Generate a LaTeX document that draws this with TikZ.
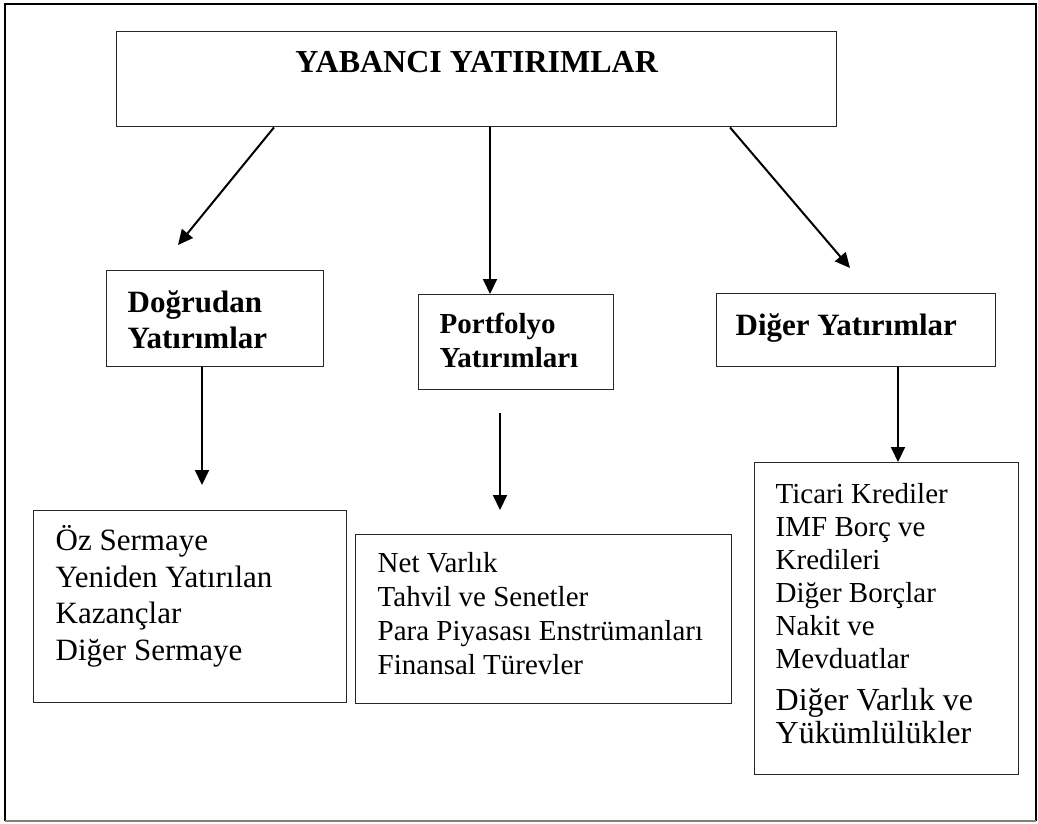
\documentclass[tikz,border=0pt]{standalone}
\usepackage{fontspec}
\setmainfont{Liberation Serif}
\usetikzlibrary{arrows.meta}

\begin{document}
\begin{tikzpicture}[x=1pt, y=-1pt,
  box/.style={draw=black!85, line width=1.4pt, anchor=north west, inner ysep=0pt},
  headbox/.style={box, align=flush left, font=\bfseries\fontsize{31}{36}\selectfont},
  listbox/.style={box, align=flush left},
  arr/.style={-{Triangle[length=15pt, width=14pt]}, line width=2pt},
  frame/.style={line width=2pt}
]
  \useasboundingbox (0,0) rectangle (1038,823);
  % outer frame
  \draw[frame] (5,821) -- (5,4) -- (1036,4) -- (1036,821);
  \draw[frame, black!50] (5,821) -- (1036,821);

  % title
  \node[box, minimum width=720pt, text height=41pt, text depth=54pt,
        font=\bfseries\fontsize{32}{38}\selectfont] (top) at (116,31) {YABANCI YATIRIMLAR};

  % three groups
  \node[headbox, inner xsep=21pt, text width=175pt, text height=42pt, text depth=54pt]
    (dog) at (106,270) {Doğrudan\\Yatırımlar};
  \node[headbox, inner xsep=21pt, text width=153pt, text height=39pt, text depth=56pt,
        font=\bfseries\fontsize{29}{34}\selectfont] (port) at (418,294) {Portfolyo\\Yatırımları};
  \node[headbox, inner xsep=19pt, text width=241pt, text height=42pt, text depth=31pt]
    (dig) at (716,293) {Diğer Yatırımlar};

  % lists
  \node[listbox, inner xsep=22pt, text width=269pt, text height=40pt, text depth=152pt,
        font=\fontsize{31}{36.5}\selectfont] (dogList) at (33,510)
    {Öz Sermaye\\Yeniden Yatırılan\\Kazançlar\\Diğer Sermaye};
  \node[listbox, inner xsep=22pt, text width=332pt, text height=38pt, text depth=131pt,
        font=\fontsize{29}{34}\selectfont] (portList) at (355,534)
    {Net Varlık\\Tahvil ve Senetler\\Para Piyasası Enstrümanları\\Finansal Türevler};
  \node[listbox, inner xsep=21pt, text width=222pt, text height=41pt, text depth=271pt,
        font=\fontsize{29}{33}\selectfont] (digList) at (754,462)
    {Ticari Krediler\\IMF Borç ve\\Kredileri\\Diğer Borçlar\\Nakit ve\\Mevduatlar\\[5pt]{\fontsize{32}{37}\selectfont Diğer Varlık ve\\Yükümlülükler}};

  % free ends of the arrows
  \coordinate (dogIn) at (178,245);
  \coordinate (portIn) at ([xshift=72pt]port.north west);
  \coordinate (digIn) at (850,268);
  \coordinate (dogListIn) at (202,485);
  \coordinate (portOut) at (500,413);
  \coordinate (portListIn) at (500,510);
  \coordinate (digOut) at ([xshift=182pt]dig.south west);

  \draw[arr] ([xshift=158pt]top.south west) -- (dogIn);
  \draw[arr] (top.south -| portIn) -- (portIn);
  \draw[arr] ([xshift=614pt]top.south west) -- (digIn);
  \draw[arr] ([xshift=96pt]dog.south west) -- (dogListIn);
  \draw[arr] (portOut) -- (portListIn);
  \draw[arr] (digOut) -- (digList.north -| digOut);
\end{tikzpicture}
\end{document}
